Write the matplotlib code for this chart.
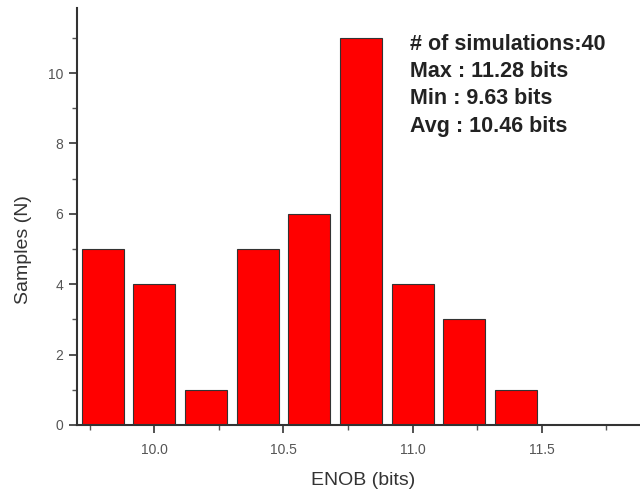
import numpy as np
import matplotlib
matplotlib.use("Agg")
import matplotlib.pyplot as plt
from matplotlib.ticker import MultipleLocator

# ENOB histogram data (bin centres and counts)
enob = [9.8, 10.0, 10.2, 10.4, 10.6, 10.8, 11.0, 11.2, 11.4]
samples = [5, 4, 1, 5, 6, 11, 4, 3, 1]
info_lines = ["# of simulations:40", "Max : 11.28 bits", "Min : 9.63 bits", "Avg : 10.46 bits"]

plt.rcParams['font.family'] = ['Liberation Sans', 'DejaVu Sans']

fig = plt.figure(figsize=(6.4, 4.97), dpi=100)
ax = fig.add_axes([0.120, 0.145, 0.88, 0.839])

ax.bar(enob, samples, width=0.163, color='#ff0000', edgecolor='#333333', linewidth=0.8)

ax.set_xlim(9.7, 11.88)
ax.set_ylim(0, 11.85)
ax.xaxis.set_major_locator(MultipleLocator(0.5))
ax.xaxis.set_minor_locator(MultipleLocator(0.25))
ax.yaxis.set_major_locator(MultipleLocator(2))
ax.yaxis.set_minor_locator(MultipleLocator(1))
ax.xaxis.set_major_formatter(plt.FormatStrFormatter('%.1f'))

for s in ['top', 'right']:
    ax.spines[s].set_visible(False)
for s in ['left', 'bottom']:
    ax.spines[s].set_linewidth(1.5)
    ax.spines[s].set_color('#333333')

ax.tick_params(which='major', direction='out', length=6, width=1.2, color='#333333',
               labelsize=10, labelcolor='#555555', pad=4)
ax.tick_params(axis='x', which='major', pad=7)
ax.tick_params(which='minor', direction='out', length=3.5, width=1, color='#555555')

ax.set_xlabel("ENOB (bits)", fontsize=14, color='#333333')
ax.set_ylabel("Samples (N)", fontsize=14, color='#333333')
ax.xaxis.set_label_coords(0.508, -0.113)
ax.yaxis.set_label_coords(-0.080, 0.42)

for i, line in enumerate(info_lines):
    fig.text(0.640, 1 - (44 + i * 27.5) / 497, line, fontsize=15.5, fontweight='bold',
             color='#222222', va='center', ha='left')

fig.savefig("out.png", dpi=100)
